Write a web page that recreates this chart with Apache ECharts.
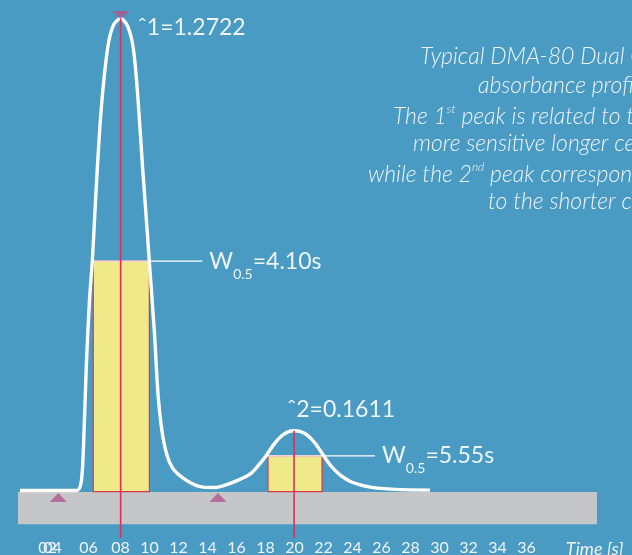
<!DOCTYPE html>
<html><head><meta charset="utf-8">
<script src="https://cdn.jsdelivr.net/npm/echarts@6/dist/echarts.min.js"></script>
<style>html,body{margin:0;padding:0;background:#4a9bc3}#c{width:632px;height:555px}</style>
</head><body><div id="c"></div>
<script>
// ---- data ----
const curveTime = [1.07, 5.0, 5.31, 5.48, 5.64, 5.86, 6.06, 6.28, 6.55, 6.83, 7.17, 7.52, 8.01, 8.52, 8.90, 9.21, 9.52, 9.85, 9.98, 10.34, 10.62, 11.0, 11.55, 12.52, 13.69, 14.52, 15.28, 16.24, 16.93, 17.48, 18.03, 18.59, 19.14, 19.55, 19.97, 20.38, 20.86, 21.41, 21.97, 22.52, 23.14, 23.97, 25.21, 26.93, 29.34];
const curveAbs  = [0, 0, 0.028, 0.155, 0.333, 0.513, 0.621, 0.783, 0.964, 1.098, 1.206, 1.255, 1.2722, 1.249, 1.187, 1.053, 0.872, 0.694, 0.621, 0.425, 0.244, 0.128, 0.063, 0.028, 0.009, 0.008, 0.015, 0.030, 0.044, 0.066, 0.093, 0.125, 0.148, 0.158, 0.1611, 0.159, 0.150, 0.128, 0.096, 0.066, 0.042, 0.022, 0.009, 0.003, 0.001];
const peakTimes  = [8.01, 19.97];
const peakValues = [1.2722, 0.1611];
const peakLabels = ['ˆ1=1.2722', 'ˆ2=0.1611'];
const halfStart  = [6.12, 18.17];
const halfEnd    = [9.99, 21.90];
const halfHeight = [0.618, 0.093];
const halfWidthLabels = ['=4.10s', '=5.55s'];
const baseMarkTimes = [3.71, 14.72];
const baseMarkValue = -0.019;
const bandTimes  = [0.93, 40.86];
const bandValues = [-0.004, -0.091];
const tickValues = [2.97, 3.31, 5.79, 8, 10, 12, 14, 16, 18, 20, 22, 24, 26, 28, 30, 32, 34, 36, 40.7];
const tickLabels = ['02', '04', '06', '08', '10', '12', '14', '16', '18', '20', '22', '24', '26', '28', '30', '32', '34', '36', 'Time [s]'];
const noteLines = ['Typical DMA-80 Dual Cell', 'absorbance profile.', 'The 1{s|st} peak is related to the', 'more sensitive longer cell,', 'while the 2{s|nd} peak corresponds', 'to the shorter cell.'];

// ---- style / layout ----
const FONT = 'Lato, "Open Sans", sans-serif';
const TXT = '#eef4f8';
const RED = '#dd2f5a';
const peakLabelOffset = [[17, 9], [-7, -21]];
const noteLeft = [420, 478, 393, 413, 368, 488];
const lineBottom = -0.128;

const chart = echarts.init(document.getElementById('c'), null, {renderer: 'canvas'});
const curve = curveTime.map((t, i) => [t, curveAbs[i]]);

function labelFor(v) {
  let k = 0, d = Infinity;
  tickValues.forEach((tv, i) => { if (Math.abs(tv - v) < d) { d = Math.abs(tv - v); k = i; } });
  const s = tickLabels[k];
  return s.indexOf('Time') === 0 ? '{t|' + s + '}' : s;
}
function makeXAxis(parity) {
  return {
    type: 'value', min: 0, max: 43, position: 'bottom',
    splitLine: {show: false}, axisLine: {show: false, onZero: false}, axisTick: {show: false},
    axisLabel: {
      customValues: tickValues.filter((v, i) => i % 2 === parity),
      margin: 14, color: TXT, fontFamily: FONT, fontSize: 16,
      hideOverlap: false, showMinLabel: true, showMaxLabel: true,
      formatter: labelFor,
      rich: {t: {fontStyle: 'italic', fontSize: 18, color: TXT, fontFamily: FONT}}
    }
  };
}

chart.setOption({
  backgroundColor: '#4a9bc3',
  animation: false,
  grid: {left: 4.5, right: 4, top: 8.2, bottom: 29.3, containLabel: false, outerBoundsMode: 'none'},
  xAxis: [makeXAxis(0), makeXAxis(1)],
  yAxis: {type: 'value', min: -0.095, max: 1.3, show: false, splitLine: {show: false}},
  series: [
    { // grey band
      type: 'custom', z: 1, silent: true,
      data: [[bandTimes[0], bandValues[0], bandTimes[1], bandValues[1]]],
      renderItem: (p, api) => {
        const a = api.coord([api.value(0), api.value(1)]);
        const b = api.coord([api.value(2), api.value(3)]);
        return {type: 'rect', shape: {x: a[0], y: a[1], width: b[0] - a[0], height: b[1] - a[1]}, style: {fill: '#c5c6c8'}};
      }
    },
    { // half-height width boxes, connectors, labels
      type: 'custom', z: 2, silent: true,
      data: halfStart.map((s, i) => [s, halfEnd[i], halfHeight[i], i]),
      renderItem: (p, api) => {
        const i = api.value(3);
        const a = api.coord([api.value(0), api.value(2)]);
        const b = api.coord([api.value(1), -0.003]);
        const lineEnd = b[0] + 53;
        return {type: 'group', children: [
          {type: 'rect', shape: {x: a[0], y: a[1], width: b[0] - a[0], height: b[1] - a[1]},
           style: {fill: '#f0e98a', stroke: '#d9354c', lineWidth: 1.2}},
          {type: 'line', shape: {x1: a[0], y1: a[1], x2: lineEnd, y2: a[1]}, style: {stroke: '#ffffff', lineWidth: 1.3}},
          {type: 'text', x: lineEnd + 7, y: a[1], style: {
            text: '{w|W}{s|0.5}{w|' + halfWidthLabels[i] + '}',
            verticalAlign: 'middle', align: 'left',
            rich: {
              w: {fontSize: 23, fontFamily: FONT, fill: TXT, color: TXT, lineHeight: 40, verticalAlign: 'middle'},
              s: {fontSize: 14, fontFamily: FONT, fill: TXT, color: TXT, lineHeight: 14, verticalAlign: 'bottom'}
            }
          }}
        ]};
      }
    },
    { // absorbance curve
      type: 'line', z: 3, silent: true, data: curve, showSymbol: false,
      smooth: 0.3,
      lineStyle: {color: '#ffffff', width: 3.4}
    },
    { // red peak lines + peak labels
      type: 'custom', z: 4, silent: true,
      data: peakTimes.map((t, i) => [t, peakValues[i], i]),
      renderItem: (p, api) => {
        const i = api.value(2);
        const a = api.coord([api.value(0), api.value(1)]);
        const b = api.coord([api.value(0), lineBottom]);
        return {type: 'group', children: [
          {type: 'line', shape: {x1: a[0], y1: a[1], x2: b[0], y2: b[1]}, style: {stroke: RED, lineWidth: 1.6}},
          {type: 'text', x: a[0] + peakLabelOffset[i][0], y: a[1] + peakLabelOffset[i][1], style: {
            text: peakLabels[i], fontSize: 23, fontFamily: FONT, fill: TXT, align: 'left', verticalAlign: 'middle'}}
        ]};
      }
    },
    { // baseline markers
      type: 'scatter', z: 5, silent: true, symbol: 'triangle', symbolSize: [17, 9],
      itemStyle: {color: '#b0578b'},
      data: baseMarkTimes.map(t => [t, baseMarkValue])
    },
    { // peak-top marker
      type: 'scatter', z: 5, silent: true, symbol: 'triangle', symbolSize: [17, 8], symbolRotate: 180,
      itemStyle: {color: '#b0578b'},
      data: [[peakTimes[0], 1.2817]]
    }
  ],
  graphic: noteLines.map((ln, i) => ({
    type: 'text', left: noteLeft[i], top: 59 + i * 29 - 14, silent: true,
    style: {
      text: '{m|' + ln.replace(/\{s\|(\w+)\}/g, '}{s|$1}{m|') + '}',
      rich: {
        m: {fontSize: 23, fontStyle: 'italic', fontFamily: FONT, fontWeight: 300, fill: TXT, color: TXT, lineHeight: 28, verticalAlign: 'middle'},
        s: {fontSize: 12, fontStyle: 'italic', fontFamily: FONT, fontWeight: 300, fill: TXT, color: TXT, lineHeight: 28, verticalAlign: 'top', padding: [0, 0, 10, 0]}
      }
    }
  }))
});
</script></body></html>
